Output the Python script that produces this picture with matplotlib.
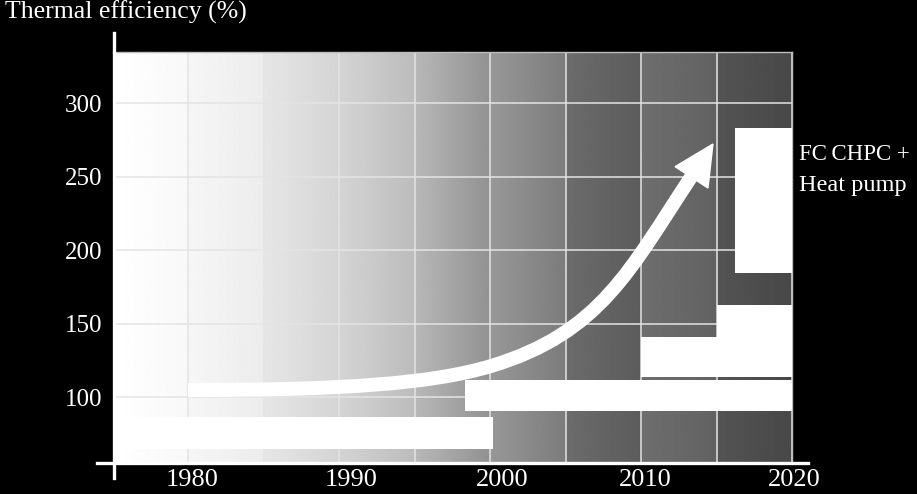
import matplotlib.pyplot as plt
import matplotlib.transforms as mtransforms
import numpy as np
from matplotlib.patches import Rectangle, Polygon, PathPatch
from matplotlib.path import Path
from matplotlib.lines import Line2D

plt.rcParams['font.family'] = ['Liberation Serif', 'DejaVu Serif']

# axis ticks
year_ticks = [1980, 1990, 2000, 2010, 2020]
year_grid = [1975, 1985, 1995, 2005, 2015]
eff_ticks = [100, 150, 200, 250, 300]

# white bars (start year, end year, low %, high %)
bar_start = [1975.0, 1998.3, 2010.0, 2015.0, 2016.2]
bar_end = [2000.2, 2020.0, 2020.0, 2020.0, 2020.0]
bar_low = [64.6, 90.5, 113.6, 113.6, 184.4]
bar_high = [86.4, 111.6, 140.8, 162.6, 283.0]

# trend arrow (bezier control points, year / %)
arrow_x = [1979.97, 1990.04, 1996.07, 2000.05, 2007.34, 2009.30, 2013.31]
arrow_y = [104.76, 104.76, 108.84, 121.09, 143.53, 187.55, 249.65]
head_x = [2014.76, 2012.25, 2014.43]
head_y = [272.1, 256.7, 242.2]

# background shade of each 5-year column (left, right), 0-255
col_left = [255, 246, 230, 212, 184, 152, 108, 110, 84]
col_right = [248, 236, 212, 188, 146, 124, 92, 98, 72]

fig = plt.figure(figsize=(9.17, 4.94), dpi=100, facecolor='black')
ax = fig.add_axes([113/917, 32/494, 679/917, 410/494])
ax.set_facecolor('black')
x0, x1 = 1975, 2020
y0, y1 = 55.8, 334.7
ax.set_xlim(x0, x1)
ax.set_ylim(y0, y1)

# gradient background
grad = np.concatenate([np.linspace(l, r, 60) for l, r in zip(col_left, col_right)])
ax.imshow(grad[None, :], extent=[x0, x1, y0, y1], aspect='auto', cmap='gray',
          vmin=0, vmax=255, zorder=0, interpolation='bilinear')

# grid
for xv in year_ticks + year_grid:
    ax.axvline(xv, color='#e4e4e4', lw=1.1, zorder=1)
for yv in eff_ticks:
    ax.axhline(yv, color='#e4e4e4', lw=1.1, zorder=1)

# bars
for s, e, lo, hi in zip(bar_start, bar_end, bar_low, bar_high):
    ax.add_patch(Rectangle((s, lo), e - s, hi - lo, facecolor='white',
                           edgecolor='none', zorder=3))

# arrow
codes = [Path.MOVETO, Path.CURVE4, Path.CURVE4, Path.CURVE4,
         Path.CURVE4, Path.CURVE4, Path.CURVE4]
shaft = Path(list(zip(arrow_x, arrow_y)), codes)
ax.add_patch(PathPatch(shaft, facecolor='none', edgecolor='white', lw=10,
                       capstyle='butt', zorder=4))
ax.add_patch(Polygon(list(zip(head_x, head_y)), closed=True, facecolor='white',
                     edgecolor='white', lw=1, zorder=4))

# ticks and labels
ax.set_xticks(year_ticks)
ax.set_xticklabels([str(y) for y in year_ticks])
ax.set_yticks(eff_ticks)
ax.tick_params(axis='x', length=0, pad=5, labelsize=19, colors='white')
ax.tick_params(axis='y', length=0, pad=8, labelsize=18, colors='white')
label_shift = [4, 12, 12, 4, 2]
for lab, dx in zip(ax.get_xticklabels(), label_shift):
    lab.set_transform(lab.get_transform() +
                      mtransforms.ScaledTranslation(dx/100, 0, fig.dpi_scale_trans))
for sp in ['left', 'bottom']:
    ax.spines[sp].set_visible(False)
ax.spines['top'].set_color('#bdbdbd')
ax.spines['right'].set_color('#bdbdbd')
ax.spines['top'].set_linewidth(1)
ax.spines['right'].set_linewidth(1)

# extended axis lines
ax.add_line(Line2D([-16/679, 1 + 16/679], [-0.003, -0.003], transform=ax.transAxes,
                   color='white', lw=2.4, clip_on=False, zorder=6))
ax.add_line(Line2D([0.002, 0.002], [-16/410, 1 + 19/410], transform=ax.transAxes,
                   color='white', lw=2.4, clip_on=False, zorder=6))

fig.text(5/917, 1 - 1/494, 'Thermal efficiency (%)', color='white',
         fontsize=18.5, ha='left', va='top')
fig.text(799/917, 1 - 155/494, 'FC\u2009CHPC +', color='white', fontsize=16.5,
         ha='left', va='center')
fig.text(799/917, 1 - 186/494, 'Heat pump', color='white', fontsize=17.5,
         ha='left', va='center')

fig.savefig('out.png', dpi=100, facecolor='black')
